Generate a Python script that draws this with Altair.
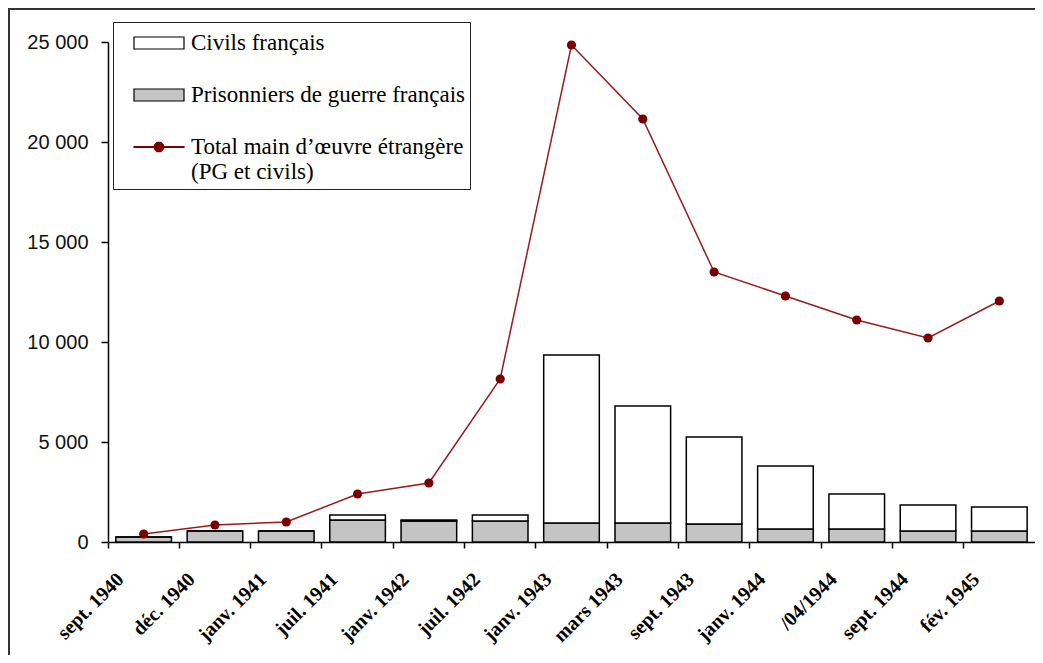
import altair as alt
import pandas as pd

# ---- data ----
categories = ["sept. 1940", "déc. 1940", "janv. 1941", "juil. 1941", "janv. 1942",
              "juil. 1942", "janv. 1943", "mars 1943", "sept. 1943", "janv. 1944",
              "/04/1944", "sept. 1944", "fév. 1945"]
prisonniers = [250, 550, 550, 1100, 1050, 1050, 950, 950, 900, 650, 650, 550, 550]
civils = [0, 0, 0, 250, 50, 300, 8400, 5850, 4350, 3150, 1750, 1300, 1200]
total = [400, 850, 1000, 2400, 2950, 8150, 24850, 21150, 13500, 12300, 11100, 10200, 12050]

series_names = ["Civils français", "Prisonniers de guerre français",
                "Total main d’œuvre étrangère|(PG et civils)"]
y_ticks = [0, 5000, 10000, 15000, 20000, 25000]

PG_GRAY = "#c4c4c4"
LINE_RED = "#981c1c"
MARK_RED = "#7a0000"

legend_fill = ["white", PG_GRAY, MARK_RED]
legend_stroke = ["black", "black", MARK_RED]
rect_path = "M0,-0.4H3.333V0.4H0Z"
line_path = ("M0,-0.03H3.333V0.03H0Z "
             "M1.972,0.127L1.794,0.305L1.540,0.305L1.362,0.127L1.362,-0.127"
             "L1.540,-0.305L1.794,-0.305L1.972,-0.127Z")
legend_shapes = [rect_path, rect_path, line_path]

df = pd.DataFrame({"cat": categories, "pg": prisonniers, "civ": civils, "total": total})
legend_df = pd.DataFrame({"series": series_names})
frame_df = pd.DataFrame({"k": [0]})

x_axis = alt.Axis(title=None, labelAngle=-45, labelAlign="right", labelBaseline="middle",
                  labelFont="Liberation Serif", labelFontWeight="bold", labelFontSize=20,
                  labelColor="black", labelOffset=-23, labelPadding=28, bandPosition=0,
                  tickSize=6, tickColor="black", tickWidth=1.5, domainColor="black",
                  domainWidth=1.5, grid=False, labelOverlap=False)
x_enc = alt.X("cat:N", sort=categories, axis=x_axis,
              scale=alt.Scale(paddingInner=0, paddingOuter=0))

y_axis = alt.Axis(title=None, values=y_ticks, grid=False,
                  labelExpr="replace(format(datum.value, ','), ',', ' ')",
                  labelFont="Liberation Sans", labelFontSize=20, labelColor="#111",
                  labelPadding=13, tickSize=7, tickColor="black", tickWidth=1.5,
                  domainColor="black", domainWidth=1.5)
y_scale = alt.Scale(domain=[0, 25000], nice=False)

base = alt.Chart(df)

bars_pg = base.mark_bar(fill=PG_GRAY, stroke="black", strokeWidth=1.5,
                        width=alt.RelativeBandSize(0.78)).encode(
    x=x_enc,
    y=alt.Y("pg:Q", scale=y_scale, axis=y_axis),
    y2=alt.datum(0),
)

bars_civ = base.transform_calculate(top="datum.pg + datum.civ").mark_bar(
    fill="white", stroke="black", strokeWidth=1.5,
    width=alt.RelativeBandSize(0.78)).encode(
    x=x_enc,
    y=alt.Y("top:Q", scale=y_scale, axis=y_axis),
    y2="pg:Q",
)

line = base.mark_line(color=LINE_RED, strokeWidth=1.5).encode(
    x=x_enc, y=alt.Y("total:Q", scale=y_scale, axis=y_axis))
points = base.mark_point(filled=True, color=MARK_RED, size=85, opacity=1).encode(
    x=x_enc, y=alt.Y("total:Q", scale=y_scale, axis=y_axis))

leg = alt.Legend(title=None, orient="none", legendX=5, legendY=-20,
                 strokeColor="#222", fillColor="white", padding=5,
                 labelFont="Liberation Serif", labelFontSize=23, labelColor="black",
                 labelOffset=41, rowPadding=24, symbolSize=900, symbolStrokeWidth=1.2,
                 labelLimit=500, labelExpr="split(datum.label, '|')")

legend_layer = alt.Chart(legend_df).transform_filter("false").mark_point(
    filled=True, strokeWidth=1.2, opacity=1).encode(
    color=alt.Color("series:N", scale=alt.Scale(domain=series_names, range=legend_fill), legend=leg),
    stroke=alt.Stroke("series:N", scale=alt.Scale(domain=series_names, range=legend_stroke), legend=leg),
    shape=alt.Shape("series:N", scale=alt.Scale(domain=series_names, range=legend_shapes), legend=leg),
)

frame_left = alt.Chart(frame_df).mark_rule(color="#333", strokeWidth=2).encode(
    x=alt.value(-99), y=alt.value(-33), y2=alt.value(700))
frame_top = alt.Chart(frame_df).mark_rule(color="#333", strokeWidth=2).encode(
    x=alt.value(-100), x2=alt.value(1000), y=alt.value(-33))

chart = alt.layer(bars_pg, bars_civ, line, points, legend_layer, frame_left, frame_top).properties(
    width=927, height=500,
    autosize=alt.AutoSizeParams(type="none"),
    padding={"left": 100, "top": 34, "right": 0, "bottom": 113},
    view=alt.ViewBackground(stroke="transparent", strokeWidth=0),
).configure_view(stroke="transparent", strokeWidth=0).configure_axis(grid=False, domainColor="black").configure(background="white")

chart.save("out.html", embed_options={"renderer": "svg", "actions": False})
